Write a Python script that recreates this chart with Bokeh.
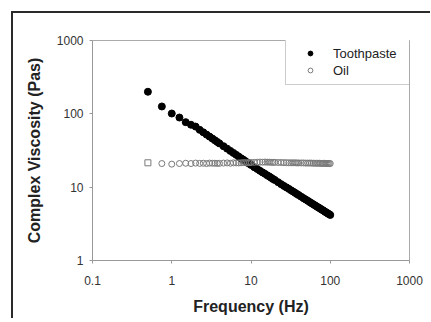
from bokeh.plotting import figure
from bokeh.models import Legend, LegendItem, FixedTicker, ColumnDataSource, CDSView, IndexFilter
from bokeh.embed import file_html
from bokeh.resources import INLINE

freq = [0.5, 0.75, 1, 1.25, 1.5, 1.75, 2, 2.25, 2.5, 2.75, 3, 3.25, 3.5, 3.75, 4, 4.5, 5, 5.5, 6, 6.5,
        7, 7.5, 8, 8.5, 9, 9.5, 10, 11, 12, 13, 14, 15, 16, 17, 18, 19, 20, 22, 24, 26,
        28, 30, 32, 34, 36, 38, 40, 43, 46, 49, 52, 55, 58, 61, 64, 67, 70, 73, 76, 79,
        82, 85, 88, 91, 94, 97, 100]
toothpaste = [200, 126, 101, 89, 77, 71, 67, 60.5, 56.0, 52.1, 48.9, 46.1, 43.6, 41.4, 39.5, 36.2, 33.5, 31.2, 29.3, 27.6,
              26.1, 24.8, 23.7, 22.6, 21.7, 20.9, 20.1, 18.7, 17.7, 16.7, 15.9, 15.2, 14.5, 14.0, 13.4, 12.9, 12.5, 11.7, 11.0, 10.4,
              9.93, 9.48, 9.07, 8.71, 8.37, 8.06, 7.79, 7.42, 7.08, 6.79, 6.52, 6.27, 6.05, 5.85, 5.66, 5.49, 5.33, 5.18, 5.04, 4.91,
              4.79, 4.67, 4.56, 4.46, 4.36, 4.27, 4.18]
oil = [21.5, 21.0, 20.6, 21.0, 21.2, 21.0, 21.3, 21.1, 21.2, 21.0, 21.3, 21.2, 21.2, 21.1, 21.1, 21.3, 21.4, 21.2, 21.5, 21.4,
       21.4, 21.5, 21.6, 21.6, 21.5, 21.6, 21.7, 21.8, 21.9, 22.0, 21.9, 22.0, 21.9, 21.9, 21.8, 21.8, 21.8, 21.7, 21.7, 21.6,
       21.6, 21.5, 21.5, 21.5, 21.5, 21.4, 21.4, 21.4, 21.4, 21.3, 21.3, 21.3, 21.3, 21.2, 21.2, 21.2, 21.2, 21.2, 21.1, 21.1,
       21.1, 21.1, 21.1, 21.0, 21.0, 21.0, 21.0]

x_ticks = [0.1, 1, 10, 100, 1000]
x_tick_labels = ["0.1", "1", "10", "100", "1000"]
y_ticks = [1, 10, 100, 1000]
y_tick_labels = ["1", "10", "100", "1000"]

FONT = "Liberation Sans"

p = figure(x_axis_type="log", y_axis_type="log", x_range=(0.1, 1000), y_range=(1, 1000),
           frame_width=317, frame_height=220, min_border_left=92, min_border_top=40,
           min_border_right=21, min_border_bottom=58,
           output_backend="svg", toolbar_location=None)

# outer frame of the scanned figure (top and left edges) painted behind a transparent border area
p.border_fill_color = None
p.background_fill_color = "white"
p.styles = {
    "background-color": "white",
    "background-image": "linear-gradient(#2a2a2a, #2a2a2a), linear-gradient(#2a2a2a, #2a2a2a)",
    "background-size": "420px 2px, 2px 320px",
    "background-position": "11px 11px, 11px 11px",
    "background-repeat": "no-repeat",
}

p.xgrid.visible = False
p.ygrid.visible = False
p.outline_line_color = "#aaaaaa"
p.outline_line_width = 1

p.xaxis.ticker = FixedTicker(ticks=x_ticks, minor_ticks=[])
p.yaxis.ticker = FixedTicker(ticks=y_ticks, minor_ticks=[])
p.xaxis.major_label_overrides = {t: l for t, l in zip(x_ticks, x_tick_labels)}
p.yaxis.major_label_overrides = {t: l for t, l in zip(y_ticks, y_tick_labels)}

for ax in (p.xaxis, p.yaxis):
    ax.axis_line_color = "#999999"
    ax.major_tick_line_color = "#999999"
    ax.major_tick_out = 3
    ax.major_tick_in = 0
    ax.minor_tick_out = 0
    ax.minor_tick_in = 0
    ax.major_label_text_font = FONT
    ax.major_label_text_font_size = "12px"
    ax.major_label_text_color = "#333333"
    ax.axis_label_text_font = FONT
    ax.axis_label_text_font_size = "16px"
    ax.axis_label_text_font_style = "bold"
    ax.axis_label_text_color = "#222222"

p.xaxis.axis_label = "Frequency (Hz)"
p.yaxis.axis_label = "Complex Viscosity (Pas)"
p.xaxis.major_label_standoff = 12
p.xaxis.axis_label_standoff = 10
p.yaxis.major_label_standoff = 6
p.yaxis.axis_label_standoff = 11

src = ColumnDataSource(data=dict(f=freq, tp=toothpaste, oil=oil))

r_tp = p.scatter("f", "tp", source=src, size=7, marker="circle", fill_color="black", line_color="black")
oil_view = CDSView(filter=IndexFilter(list(range(1, len(freq)))))
first_view = CDSView(filter=IndexFilter([0]))
r_oil = p.scatter("f", "oil", source=src, view=oil_view, size=6, marker="circle",
                  fill_color=None, line_color="#7a7a7a", line_width=1)
p.scatter("f", "oil", source=src, view=first_view, size=6, marker="square",
          fill_color=None, line_color="#7a7a7a", line_width=1)

legend = Legend(items=[LegendItem(label="Toothpaste", renderers=[r_tp]),
                       LegendItem(label="Oil", renderers=[r_oil])],
                location=(193, 175))
legend.padding = 6
legend.spacing = 1
legend.margin = 0
legend.glyph_width = 36
legend.glyph_height = 12
legend.label_height = 16
legend.label_width = 70
legend.label_standoff = 5
legend.label_text_font = FONT
legend.label_text_font_size = "13px"
legend.label_text_color = "#222222"
legend.border_line_color = "#999999"
legend.border_line_width = 1
legend.background_fill_color = "white"
legend.background_fill_alpha = 1
p.add_layout(legend, "center")

open("out.html", "w").write(file_html(p, INLINE))
